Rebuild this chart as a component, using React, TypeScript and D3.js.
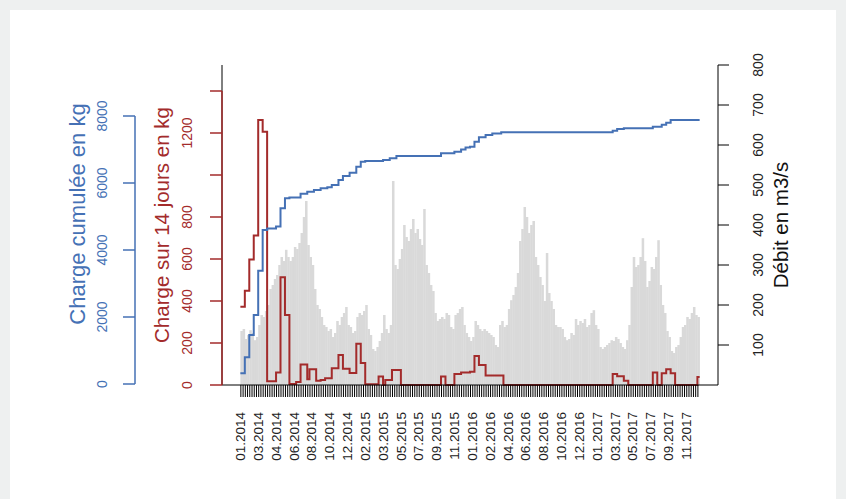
import React, { useEffect, useRef } from 'react';
import * as d3 from 'd3';

// weekly discharge (m3/s), week 0 = 06.01.2014
const flowWeekly = [
  135, 140, 115, 125, 137, 130, 112, 120, 150, 175, 170, 185, 200, 240, 250, 265, 275, 300, 320, 310,
  338, 320, 310, 320, 345, 340, 355, 380, 420, 460, 350, 320, 300, 240, 200, 190, 170, 150, 145, 135,
  140, 120, 130, 160, 150, 170, 180, 195, 150, 145, 130, 135, 170, 180, 175, 185, 200, 140, 125, 90,
  85, 95, 110, 130, 175, 140, 130, 150, 510, 300, 290, 315, 340, 400, 370, 360, 390, 415, 380, 390,
  365, 350, 440, 300, 280, 250, 235, 180, 160, 165, 170, 165, 180, 175, 145, 140, 175, 180, 190, 195,
  150, 130, 120, 110, 120, 160, 150, 140, 135, 140, 135, 130, 125, 120, 100, 95, 150, 160, 145, 150,
  190, 212, 225, 245, 280, 360, 390, 445, 420, 380, 400, 410, 320, 300, 270, 250, 210, 330, 230, 210,
  190, 150, 145, 145, 140, 120, 112, 115, 130, 125, 165, 150, 160, 155, 165, 145, 150, 180, 187, 150,
  140, 95, 90, 95, 100, 105, 112, 110, 120, 115, 105, 95, 90, 112, 150, 245, 320, 295, 300, 320,
  367, 310, 245, 260, 295, 290, 320, 362, 250, 200, 180, 135, 120, 85, 80, 95, 100, 120, 145, 150,
  170, 165, 180, 195, 175, 170,
];

// charge sur 14 jours (kg): week where the level changes, and the new level
const loadWeeks = [
  0, 2, 4, 6, 8, 10, 12, 16, 18, 20, 22, 25, 27, 30, 31, 34, 36, 38, 41, 44,
  46, 49, 52, 54, 56, 62, 64, 65, 68, 72, 90, 92, 96, 99, 103, 105, 107, 110, 118, 167,
  169, 172, 174, 185, 187, 189, 191, 193, 195, 205,
];
const loadKg = [
  373, 449, 598, 712, 1262, 1206, 18, 59, 513, 333, 5, 14, 98, 27, 75, 20, 24, 32, 80, 143,
  77, 57, 197, 105, 3, 40, 0, 24, 72, 0, 40, 0, 52, 59, 63, 138, 95, 45, 0, 52,
  42, 20, 0, 59, 0, 56, 75, 56, 0, 38,
];

// charge cumulée (kg)
const cumWeeks = [
  0, 2, 4, 6, 8, 10, 12, 16, 18, 20, 22, 27, 30, 33, 36, 39, 41, 44, 46, 49,
  52, 54, 56, 64, 67, 70, 90, 96, 99, 101, 103, 105, 107, 110, 113, 117, 167, 169, 172, 185,
  189, 191, 193,
];
const cumKg = [
  320, 800, 1460, 2060, 3380, 4597, 4640, 4700, 5245, 5545, 5570, 5680, 5740, 5790, 5841, 5871, 5940, 6090, 6209, 6308,
  6487, 6636, 6657, 6687, 6737, 6806, 6886, 6936, 7000, 7060, 7084, 7233, 7364, 7433, 7475, 7513, 7561, 7610, 7632, 7680,
  7740, 7800, 7880,
];

const xLabels = [
  '01.2014', '03.2014', '04.2014', '06.2014', '08.2014', '10.2014', '12.2014', '02.2015', '03.2015',
  '05.2015', '07.2015', '09.2015', '11.2015', '01.2016', '02.2016', '04.2016', '06.2016', '08.2016',
  '10.2016', '12.2016', '01.2017', '03.2017', '05.2017', '07.2017', '09.2017', '11.2017',
];
const labelEvery = 8;

const flowTicks = [100, 200, 300, 400, 500, 600, 700, 800];
const loadTicks = [0, 200, 400, 600, 800, 1000, 1200, 1400];
const loadTickLabels = ['0', '200', '400', '600', '800', '', '1200', ''];
const cumTicks = [0, 2000, 4000, 6000, 8000];

const BLUE = '#4571b5';
const RED = '#a32b2b';
const FONT = '"Liberation Sans", Arial, sans-serif';

export default function App() {
  const svgRef = useRef<SVGSVGElement>(null);

  useEffect(() => {
    if (!svgRef.current) return;
    const svg = d3.select(svgRef.current);
    svg.selectAll('*').remove();

    const nWeeks = flowWeekly.length;
    const pad = nWeeks * 0.04;
    const left = 222, right = 718, top = 65, bottom = 385;

    const x = d3.scaleLinear().domain([-pad, nWeeks + pad]).range([left, right]);
    const yFlow = d3.scaleLinear().domain([0, 800]).range([bottom, top]);
    const yLoad = d3.scaleLinear().domain([0, 1400]).range([bottom, 91]);
    const yCum = d3.scaleLinear().domain([0, 8000]).range([384, 116]);

    svg.append('rect').attr('width', 846).attr('height', 499).attr('fill', '#eef0f0');
    svg.append('rect').attr('x', 10).attr('y', 10).attr('width', 826).attr('height', 489).attr('fill', '#fff');

    // discharge bars
    svg.append('g')
      .selectAll('rect')
      .data(flowWeekly)
      .enter()
      .append('rect')
      .attr('x', (_d, i) => x(i))
      .attr('width', x(1) - x(0) + 0.3)
      .attr('y', d => yFlow(d))
      .attr('height', d => bottom - yFlow(d))
      .attr('fill', '#d9d9d9');

    const stepLine = (ys: d3.ScaleLinear<number, number>) =>
      d3.line<[number, number]>()
        .x(d => x(d[0]))
        .y(d => ys(d[1]))
        .curve(d3.curveStepAfter);

    const loadPts: [number, number][] = loadWeeks.map((w, i) => [w, loadKg[i]]);
    loadPts.push([nWeeks, loadKg[loadKg.length - 1]]);
    const cumPts: [number, number][] = cumWeeks.map((w, i) => [w, cumKg[i]]);
    cumPts.push([nWeeks, cumKg[cumKg.length - 1]]);

    svg.append('path')
      .attr('d', stepLine(yLoad)(loadPts))
      .attr('fill', 'none')
      .attr('stroke', RED)
      .attr('stroke-width', 2);

    svg.append('path')
      .attr('d', stepLine(yCum)(cumPts))
      .attr('fill', 'none')
      .attr('stroke', BLUE)
      .attr('stroke-width', 2);

    // frame lines (left / bottom)
    svg.append('line').attr('x1', left).attr('x2', left).attr('y1', top).attr('y2', bottom).attr('stroke', '#000');
    svg.append('line').attr('x1', left).attr('x2', right).attr('y1', bottom).attr('y2', bottom).attr('stroke', '#000');

    // x axis
    const weeks = d3.range(nWeeks);
    const xa = svg.append('g');
    xa.selectAll('line')
      .data(weeks)
      .enter()
      .append('line')
      .attr('x1', d => x(d) + 0.5)
      .attr('x2', d => x(d) + 0.5)
      .attr('y1', bottom)
      .attr('y2', bottom + 12)
      .attr('stroke', '#000')
      .attr('stroke-width', 1);
    xa.selectAll('text')
      .data(xLabels)
      .enter()
      .append('text')
      .attr('transform', (_d, i) => `translate(${x(i * labelEvery)},412) rotate(-90)`)
      .attr('dy', '0.35em')
      .attr('text-anchor', 'end')
      .attr('font-family', FONT)
      .attr('font-size', 13.5)
      .attr('fill', '#222')
      .text(d => d);

    // right axis: discharge
    const ra = svg.append('g');
    ra.append('line').attr('x1', right).attr('x2', right).attr('y1', top).attr('y2', bottom).attr('stroke', '#000');
    flowTicks.forEach(t => {
      ra.append('line').attr('x1', right).attr('x2', right + 11).attr('y1', yFlow(t)).attr('y2', yFlow(t)).attr('stroke', '#000');
      ra.append('text')
        .attr('transform', `translate(758,${yFlow(t)}) rotate(-90)`)
        .attr('dy', '0.35em')
        .attr('text-anchor', 'middle')
        .attr('font-family', FONT)
        .attr('font-size', 14)
        .attr('fill', '#222')
        .text(t);
    });
    ra.append('text')
      .attr('transform', `translate(781,${(top + bottom) / 2}) rotate(-90)`)
      .attr('dy', '0.35em')
      .attr('text-anchor', 'middle')
      .attr('font-family', FONT)
      .attr('font-size', 20.5)
      .attr('fill', '#111')
      .text('Débit en m3/s');

    // red axis: load over 14 days
    const la = svg.append('g');
    la.append('line').attr('x1', left).attr('x2', left).attr('y1', yLoad(1400)).attr('y2', bottom).attr('stroke', RED).attr('stroke-width', 1.5);
    loadTicks.forEach((t, i) => {
      la.append('line').attr('x1', left - 12).attr('x2', left).attr('y1', yLoad(t)).attr('y2', yLoad(t)).attr('stroke', RED).attr('stroke-width', 1.5);
      la.append('text')
        .attr('transform', `translate(187,${yLoad(t)}) rotate(-90)`)
        .attr('dy', '0.35em')
        .attr('text-anchor', 'middle')
        .attr('font-family', FONT)
        .attr('font-size', 14)
        .attr('fill', RED)
        .text(loadTickLabels[i]);
    });
    la.append('text')
      .attr('transform', `translate(162,${(top + bottom) / 2}) rotate(-90)`)
      .attr('dy', '0.35em')
      .attr('text-anchor', 'middle')
      .attr('font-family', FONT)
      .attr('font-size', 20.5)
      .attr('fill', RED)
      .text('Charge sur 14 jours en kg');

    // blue axis: cumulated load
    const ca = svg.append('g');
    ca.append('line').attr('x1', 135).attr('x2', 135).attr('y1', yCum(8000)).attr('y2', yCum(0)).attr('stroke', BLUE).attr('stroke-width', 1.5);
    cumTicks.forEach(t => {
      ca.append('line').attr('x1', 123).attr('x2', 135).attr('y1', yCum(t)).attr('y2', yCum(t)).attr('stroke', BLUE).attr('stroke-width', 1.5);
      ca.append('text')
        .attr('transform', `translate(102,${yCum(t)}) rotate(-90)`)
        .attr('dy', '0.35em')
        .attr('text-anchor', 'middle')
        .attr('font-family', FONT)
        .attr('font-size', 14)
        .attr('fill', BLUE)
        .text(t);
    });
    ca.append('text')
      .attr('transform', `translate(77,214) rotate(-90)`)
      .attr('dy', '0.35em')
      .attr('text-anchor', 'middle')
      .attr('font-family', FONT)
      .attr('font-size', 22)
      .attr('fill', BLUE)
      .text('Charge cumulée en kg');
  }, []);

  return (
    <svg
      ref={svgRef}
      width={846}
      height={499}
      style={{ position: 'absolute', left: 0, top: 0, display: 'block' }}
    />
  );
}
